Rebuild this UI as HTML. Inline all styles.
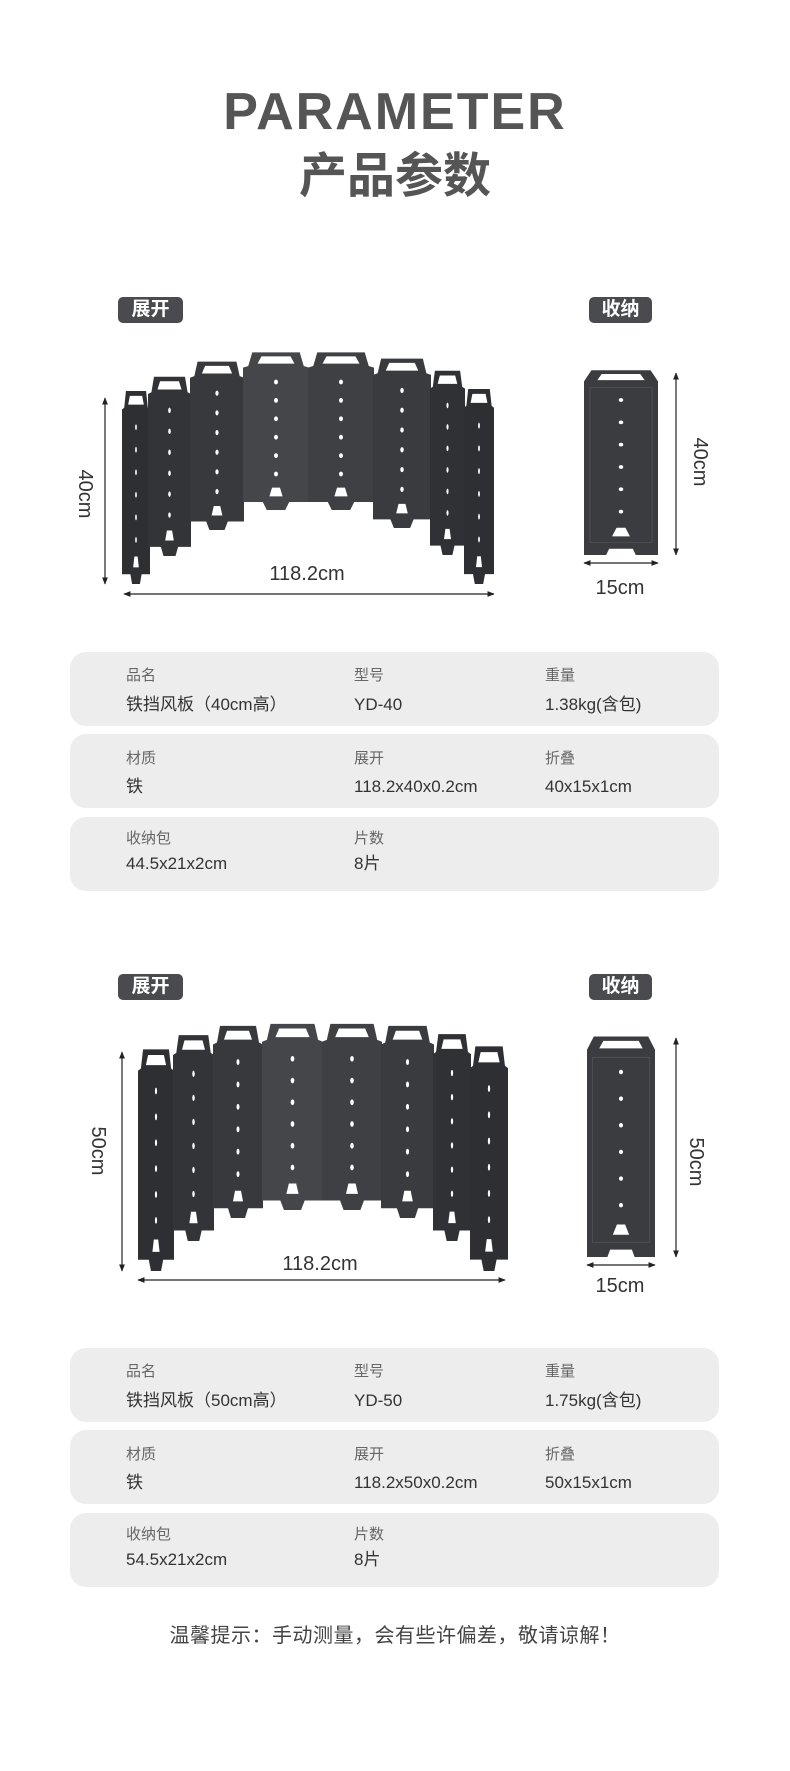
<!DOCTYPE html>
<html><head><meta charset="utf-8"><style>
*{margin:0;padding:0;box-sizing:border-box}
body{width:790px;height:1771px;background:#fff;position:relative;overflow:hidden;font-family:"Liberation Sans","Noto Sans CJK SC",sans-serif}
.a{position:absolute}
.t1{left:0;width:790px;top:86px;text-align:center;font-size:52px;font-weight:bold;color:#555;letter-spacing:2px;line-height:52px}
.t2{left:0;width:790px;top:150px;text-align:center;font-size:48px;font-weight:bold;color:#555;line-height:54px}
.tag{background:#4a4b4f;color:#fff;font-size:19px;font-weight:bold;border-radius:5px;text-align:center;line-height:26px;height:26px}
.card{left:70px;width:649px;background:#ededed;border-radius:16px}
.l{font-size:15px;color:#666;line-height:18px}
.v{font-size:17px;color:#333;line-height:20px}
.dim{font-size:20px;color:#333;line-height:22px}
.rot{transform:rotate(90deg);transform-origin:center}
</style></head><body>
<div class="a t1">PARAMETER</div>
<div class="a t2">产品参数</div>

<svg class="a" style="left:0;top:0" width="790" height="1771">
<defs>
<symbol id="p" viewBox="0 0 100 200" preserveAspectRatio="none">
<path d="M0,22 L8,20 L14,3 L86,3 L92,20 L100,22 L100,190 L70,190 L64,200 L36,200 L30,190 L0,190Z" fill="currentColor"/>
<path d="M22,17 L28,8 L72,8 L78,17Z" fill="#fff"/>
<g fill="#fff"><circle cx="50" cy="40" r="3"/><circle cx="50" cy="63" r="3"/><circle cx="50" cy="86" r="3"/><circle cx="50" cy="109" r="3"/><circle cx="50" cy="132" r="3"/><circle cx="50" cy="155" r="3"/>
<path d="M40,183 L44,172 L56,172 L60,183Z"/></g>
</symbol>
<symbol id="f" viewBox="0 0 100 300" preserveAspectRatio="none">
<path d="M0,20 L10,2 L90,2 L100,20 L100,300 L70,300 L66,290 L34,290 L30,300 L0,300Z" fill="#3b3c40"/>
<path d="M18,18 L24,8 L76,8 L82,18Z" fill="#fff"/>
<path d="M8,30 L92,30 L92,280 L8,280Z" fill="none" stroke="#55565a" stroke-width="1"/>
<g fill="#fff"><circle cx="50" cy="50" r="3"/><circle cx="50" cy="86" r="3"/><circle cx="50" cy="122" r="3"/><circle cx="50" cy="158" r="3"/><circle cx="50" cy="194" r="3"/><circle cx="50" cy="230" r="3"/>
<path d="M38,270 L44,256 L56,256 L62,270Z"/></g>
</symbol>
<marker id="ar" viewBox="0 0 10 10" refX="9" refY="5" markerWidth="6" markerHeight="6" orient="auto-start-reverse"><path d="M0,1 L10,5 L0,9Z" fill="#222"/></marker>
</defs>
<use href="#p" x="122" y="388" width="28" height="196" style="color:#2e2f32"/>
<use href="#p" x="148" y="374" width="43" height="182" style="color:#333437"/>
<use href="#p" x="190" y="359" width="54" height="171" style="color:#38393d"/>
<use href="#p" x="243" y="350" width="66" height="160" style="color:#45464a"/>
<use href="#p" x="308" y="350" width="66" height="160" style="color:#3f4044"/>
<use href="#p" x="373" y="356" width="58" height="172" style="color:#3a3b3f"/>
<use href="#p" x="430" y="368" width="35" height="187" style="color:#303134"/>
<use href="#p" x="464" y="386" width="30" height="198" style="color:#2e2f32"/>
<use href="#f" x="584" y="369" width="74" height="186"/>
<g stroke="#222" stroke-width="1.2" marker-start="url(#ar)" marker-end="url(#ar)">
<line x1="105" y1="398" x2="105" y2="584"/>
<line x1="124" y1="594" x2="494" y2="594"/>
<line x1="676" y1="373" x2="676" y2="555"/>
<line x1="584" y1="563" x2="658" y2="563"/>
</g>
<use href="#p" x="138" y="1046" width="36" height="225" style="color:#2e2f32"/>
<use href="#p" x="173" y="1032" width="41" height="209" style="color:#333437"/>
<use href="#p" x="213" y="1023" width="50" height="195" style="color:#38393d"/>
<use href="#p" x="262" y="1021" width="61" height="189" style="color:#45464a"/>
<use href="#p" x="322" y="1021" width="60" height="189" style="color:#3f4044"/>
<use href="#p" x="381" y="1023" width="53" height="195" style="color:#3a3b3f"/>
<use href="#p" x="433" y="1031" width="38" height="210" style="color:#303134"/>
<use href="#p" x="470" y="1043" width="38" height="228" style="color:#2e2f32"/>
<use href="#f" x="587" y="1035" width="68" height="222"/>
<g stroke="#222" stroke-width="1.2" marker-start="url(#ar)" marker-end="url(#ar)">
<line x1="122" y1="1052" x2="122" y2="1271"/>
<line x1="138" y1="1280" x2="505" y2="1280"/>
<line x1="676" y1="1038" x2="676" y2="1257"/>
<line x1="587" y1="1265" x2="655" y2="1265"/>
</g>
</svg>

<div class="a tag" style="left:118px;top:297px;width:65px">展开</div>
<div class="a tag" style="left:589px;top:297px;width:63px">收纳</div>
<div class="a dim" style="left:257px;top:563px;width:100px;text-align:center">118.2cm</div>
<div class="a dim rot" style="left:55px;top:483px;width:60px;text-align:center">40cm</div>
<div class="a dim rot" style="left:670px;top:451px;width:60px;text-align:center">40cm</div>
<div class="a dim" style="left:590px;top:577px;width:60px;text-align:center">15cm</div>

<div class="a card" style="top:652px;height:74px"></div>
<div class="a card" style="top:734px;height:74px"></div>
<div class="a card" style="top:817px;height:74px"></div>
<div class="a l" style="left:126px;top:667px">品名</div><div class="a v" style="left:126px;top:695px">铁挡风板（40cm高）</div>
<div class="a l" style="left:354px;top:667px">型号</div><div class="a v" style="left:354px;top:695px">YD-40</div>
<div class="a l" style="left:545px;top:667px">重量</div><div class="a v" style="left:545px;top:695px">1.38kg(含包)</div>
<div class="a l" style="left:126px;top:750px">材质</div><div class="a v" style="left:126px;top:777px">铁</div>
<div class="a l" style="left:354px;top:750px">展开</div><div class="a v" style="left:354px;top:777px">118.2x40x0.2cm</div>
<div class="a l" style="left:545px;top:750px">折叠</div><div class="a v" style="left:545px;top:777px">40x15x1cm</div>
<div class="a l" style="left:126px;top:830px">收纳包</div><div class="a v" style="left:126px;top:854px">44.5x21x2cm</div>
<div class="a l" style="left:354px;top:830px">片数</div><div class="a v" style="left:354px;top:854px">8片</div>

<div class="a tag" style="left:118px;top:974px;width:65px">展开</div>
<div class="a tag" style="left:589px;top:974px;width:63px">收纳</div>
<div class="a dim" style="left:270px;top:1253px;width:100px;text-align:center">118.2cm</div>
<div class="a dim rot" style="left:68px;top:1140px;width:60px;text-align:center">50cm</div>
<div class="a dim rot" style="left:666px;top:1151px;width:60px;text-align:center">50cm</div>
<div class="a dim" style="left:590px;top:1275px;width:60px;text-align:center">15cm</div>

<div class="a card" style="top:1348px;height:74px"></div>
<div class="a card" style="top:1430px;height:74px"></div>
<div class="a card" style="top:1513px;height:74px"></div>
<div class="a l" style="left:126px;top:1363px">品名</div><div class="a v" style="left:126px;top:1391px">铁挡风板（50cm高）</div>
<div class="a l" style="left:354px;top:1363px">型号</div><div class="a v" style="left:354px;top:1391px">YD-50</div>
<div class="a l" style="left:545px;top:1363px">重量</div><div class="a v" style="left:545px;top:1391px">1.75kg(含包)</div>
<div class="a l" style="left:126px;top:1446px">材质</div><div class="a v" style="left:126px;top:1473px">铁</div>
<div class="a l" style="left:354px;top:1446px">展开</div><div class="a v" style="left:354px;top:1473px">118.2x50x0.2cm</div>
<div class="a l" style="left:545px;top:1446px">折叠</div><div class="a v" style="left:545px;top:1473px">50x15x1cm</div>
<div class="a l" style="left:126px;top:1526px">收纳包</div><div class="a v" style="left:126px;top:1550px">54.5x21x2cm</div>
<div class="a l" style="left:354px;top:1526px">片数</div><div class="a v" style="left:354px;top:1550px">8片</div>

<div class="a" style="left:0;width:790px;top:1623px;text-align:center;font-size:20px;color:#444;line-height:26px;letter-spacing:0.5px">温馨提示：手动测量，会有些许偏差，敬请谅解！</div>
</body></html>
